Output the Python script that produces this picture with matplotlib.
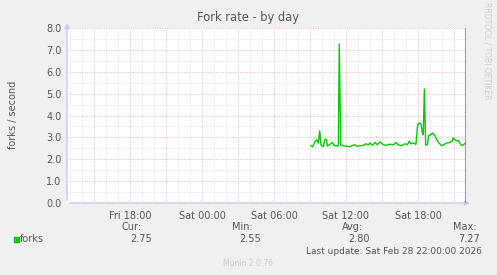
import matplotlib
matplotlib.use("Agg")
import matplotlib.pyplot as plt
from matplotlib.patches import Rectangle

# hours relative to Sat 00:00
hours = [9.08, 9.22, 9.42, 9.56, 9.69, 9.81, 9.92, 10.11, 10.25, 10.39,
         10.44, 10.61, 10.86, 11.03, 11.36, 11.44, 11.56, 11.78, 12.06, 12.33,
         12.47, 12.75, 12.89, 13.17, 13.44, 13.67, 13.86, 14.0, 14.22, 14.42,
         14.62, 14.83, 15.11, 15.39, 15.67, 15.94, 16.17, 16.36, 16.64, 16.92,
         17.11, 17.28, 17.39, 17.61, 17.83, 17.97, 18.11, 18.25, 18.36, 18.44,
         18.53, 18.64, 18.78, 18.89, 19.06, 19.22, 19.42, 19.56, 19.75, 19.97,
         20.17, 20.39, 20.67, 20.86, 20.94, 21.08, 21.22, 21.36, 21.5, 21.64,
         21.78, 21.97]
forks = [2.62, 2.57, 2.82, 2.89, 2.74, 3.30, 2.66, 2.57, 2.92, 2.89,
         2.60, 2.66, 2.77, 2.62, 2.62, 7.27, 2.66, 2.62, 2.59, 2.57,
         2.62, 2.66, 2.59, 2.62, 2.63, 2.71, 2.66, 2.74, 2.64, 2.77,
         2.66, 2.80, 2.66, 2.64, 2.69, 2.66, 2.77, 2.66, 2.62, 2.71,
         2.66, 2.83, 2.71, 2.74, 2.68, 3.58, 3.66, 3.62, 3.20, 3.12,
         5.21, 2.66, 2.66, 3.08, 3.12, 3.20, 3.08, 2.89, 2.74, 2.62,
         2.68, 2.74, 2.77, 2.83, 2.98, 2.90, 2.85, 2.86, 2.74, 2.62,
         2.66, 2.75]

x_start, x_end = -11.25, 22.0
tick_hours = [-6, 0, 6, 12, 18]
tick_labels = ["Fri 18:00", "Sat 00:00", "Sat 06:00", "Sat 12:00", "Sat 18:00"]
y_ticks = [0, 1, 2, 3, 4, 5, 6, 7, 8]

stat_names = ["Cur:", "Min:", "Avg:", "Max:"]
stat_values = ["2.75", "2.55", "2.80", "7.27"]

plt.rcParams["font.family"] = ["DejaVu Sans"]
bg = "#F0F0F0"
txt = "#555555"

fig = plt.figure(figsize=(4.97, 2.75), dpi=100, facecolor=bg)
ax = fig.add_axes([67 / 497, 1 - 203 / 275, 399 / 497, 175 / 275])
ax.set_facecolor("white")
ax.set_xlim(x_start, x_end)
ax.set_ylim(0, 8)

minor_c = "#DDDDDD"
major_c = "#ECB4B4"
dots = (0, (1, 1.5))
h = -11
while h <= 22:
    if h % 3 == 0:
        ax.axvline(h, color=major_c, lw=0.7, ls=dots, zorder=1)
    else:
        ax.axvline(h, color=minor_c, lw=0.7, ls=dots, zorder=0)
    h += 1
for v in range(17):
    y = v * 0.5
    if v % 2 == 0:
        ax.axhline(y, color=major_c, lw=0.7, ls=dots, zorder=1)
    else:
        ax.axhline(y, color=minor_c, lw=0.7, ls=dots, zorder=0)

ax.plot(hours, forks, color="#00CC00", lw=1.0, zorder=3)
ax.axvline(x_end, color="#888888", lw=1.2, zorder=4)

for s in ax.spines.values():
    s.set_visible(False)
ax.tick_params(length=0, labelsize=7, colors=txt, pad=4)
ax.set_xticks(tick_hours)
ax.set_xticklabels(tick_labels)
ax.set_yticks(y_ticks)
ax.set_yticklabels([f"{v:.1f}" for v in y_ticks])
ax.tick_params(axis="x", pad=6)

# axes with arrows
axc = "#C8C8F0"
ax.annotate("", xy=(x_start, 8.35), xytext=(x_start, 0), annotation_clip=False,
            arrowprops=dict(arrowstyle="-|>", color=axc, lw=1, mutation_scale=7))
ax.annotate("", xy=(x_end + 0.55, 0), xytext=(x_start, 0), annotation_clip=False,
            arrowprops=dict(arrowstyle="-|>", color=axc, lw=1, mutation_scale=7))

fig.text(248 / 497, 1 - 17 / 275, "Fork rate - by day", ha="center", va="center",
         fontsize=8.3, color=txt)
fig.text(13 / 497, 1 - 115 / 275, "forks / second", rotation=90, ha="center",
         va="center", fontsize=7, color=txt)
fig.text(487 / 497, 1 - 51 / 275, "RRDTOOL / TOBI OETIKER", rotation=270,
         ha="center", va="center", fontsize=5.5, color="#CCCCCC")

# legend rows
fig.patches.append(Rectangle((14 / 497, 1 - 242 / 275), 5 / 497, 5 / 275,
                             transform=fig.transFigure, color="#00CC00"))
fig.text(20 / 497, 1 - 239 / 275, "forks", ha="left", va="center", fontsize=7, color=txt)
name_right = [142, 253, 363, 477]
val_right = [152, 261, 370, 480]
for n, v, nx, vx in zip(stat_names, stat_values, name_right, val_right):
    fig.text(nx / 497, 1 - 227 / 275, n, ha="right", va="center", fontsize=7, color=txt)
    fig.text(vx / 497, 1 - 239 / 275, v, ha="right", va="center", fontsize=7, color=txt)
fig.text(482 / 497, 1 - 251 / 275, "Last update: Sat Feb 28 22:00:00 2026",
         ha="right", va="center", fontsize=6.5, color=txt)
fig.text(248 / 497, 1 - 263 / 275, "Munin 2.0.76", ha="center", va="center",
         fontsize=5.5, color="#C8C8C8")

fig.savefig("out.png", dpi=100, facecolor=bg)
